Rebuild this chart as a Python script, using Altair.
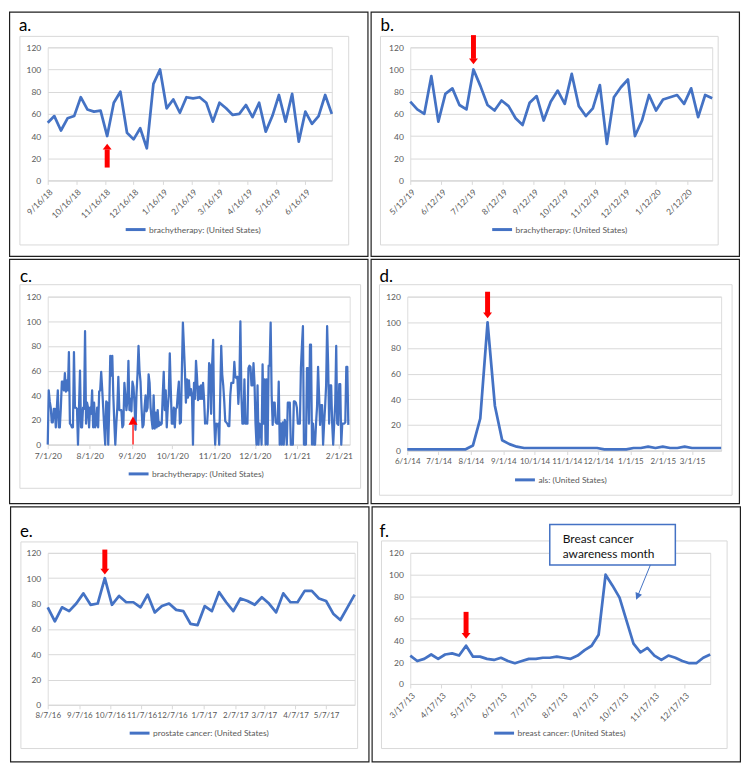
import altair as alt
import pandas as pd

BLUE = "#4472C4"
RED = "#FF0000"
GRID = "#D9D9D9"
LABEL = "#595959"
FONT = "Lato"

Y_TICKS = [0, 20, 40, 60, 80, 100, 120]

# ---- panel a: brachytherapy, weekly from 2018-09-16
a_values = [52, 58, 45, 56, 58, 75, 64, 62, 63, 40, 70, 80, 43, 37, 47, 29, 87, 100, 65, 73,
            61, 75, 74, 75, 70, 53, 70, 65, 59, 60, 68, 57, 70, 44, 58, 77, 53, 78, 35, 62,
            51, 58, 77, 60]
a_ticks = ["2018-09-16", "2018-10-16", "2018-11-16", "2018-12-16", "2019-01-16", "2019-02-16",
           "2019-03-16", "2019-04-16", "2019-05-16", "2019-06-16"]

# ---- panel b: brachytherapy, weekly from 2019-05-12
b_values = [71, 64, 60, 94, 53, 78, 83, 68, 64, 100, 85, 68, 63, 72, 67, 56, 50, 70, 76, 54,
            71, 81, 69, 96, 67, 58, 65, 86, 33, 75, 84, 91, 40, 54, 77, 63, 73, 75, 77, 69,
            83, 57, 77, 74]
b_ticks = ["2019-05-12", "2019-06-12", "2019-07-12", "2019-08-12", "2019-09-12", "2019-10-12",
           "2019-11-12", "2019-12-12", "2020-01-12", "2020-02-12"]

# ---- panel c: brachytherapy, daily 2020-07-01 .. 2021-02-08
c_values = [0, 44, 35, 30, 18, 18, 29, 29, 14, 29, 44, 14, 14, 30, 51, 51, 44, 58, 43, 52,
            44, 75, 17, 16, 14, 14, 75, 30, 30, 29, 0, 30, 60, 14, 14, 30, 29, 92, 17, 34,
            30, 14, 30, 25, 44, 14, 34, 14, 16, 30, 14, 43, 44, 59, 45, 30, 14, 0, 35, 34,
            0, 30, 72, 56, 72, 40, 18, 0, 17, 30, 55, 28, 28, 28, 14, 16, 50, 40, 28, 36,
            68, 28, 37, 27, 51, 47, 34, 12, 41, 57, 80, 60, 51, 30, 14, 16, 30, 40, 27, 30,
            57, 50, 30, 20, 13, 40, 13, 26, 14, 28, 15, 18, 16, 17, 40, 59, 28, 44, 14, 30,
            40, 74, 45, 17, 17, 30, 14, 29, 30, 42, 51, 17, 18, 60, 99, 80, 60, 34, 53, 38,
            52, 40, 45, 40, 0, 50, 37, 68, 55, 36, 47, 37, 48, 37, 50, 37, 17, 18, 17, 30,
            66, 64, 25, 65, 85, 22, 0, 17, 15, 17, 0, 40, 80, 57, 48, 35, 19, 18, 17, 15,
            15, 40, 50, 50, 50, 67, 55, 54, 55, 33, 50, 100, 40, 17, 17, 53, 17, 17, 17, 62,
            64, 63, 48, 48, 66, 50, 17, 0, 48, 0, 17, 15, 0, 65, 17, 53, 0, 53, 0, 64,
            64, 99, 40, 16, 34, 34, 18, 17, 17, 51, 0, 17, 0, 18, 0, 20, 17, 0, 34, 34,
            34, 0, 0, 0, 35, 35, 34, 30, 17, 17, 17, 62, 80, 96, 0, 0, 0, 62, 62, 17,
            81, 81, 0, 17, 0, 0, 17, 31, 63, 40, 16, 32, 32, 0, 17, 31, 48, 96, 65, 17,
            48, 48, 17, 0, 17, 33, 80, 17, 16, 49, 49, 0, 17, 17, 17, 18, 63, 63, 16]
c_ticks = ["2020-07-01", "2020-08-01", "2020-09-01", "2020-10-01", "2020-11-01", "2020-12-01",
           "2021-01-01", "2021-02-01"]

# ---- panel d: als, weekly from 2014-06-01
d_values = [1, 1, 1, 1, 1, 1, 1, 1, 1, 4, 25, 100, 35, 8, 5, 3, 2, 2, 2, 2,
            2, 2, 2, 2, 2, 2, 2, 1, 1, 1, 1, 2, 2, 3, 2, 3, 2, 2, 3, 2,
            2, 2, 2, 2]
d_ticks = ["2014-06-01", "2014-07-01", "2014-08-01", "2014-09-01", "2014-10-01", "2014-11-01",
           "2014-12-01", "2015-01-01", "2015-02-01", "2015-03-01"]

# ---- panel e: prostate cancer, weekly from 2016-08-07
e_values = [77, 66, 77, 74, 80, 88, 79, 80, 100, 79, 86, 81, 81, 77, 87, 73, 78, 80, 75, 74,
            64, 63, 78, 74, 89, 81, 74, 84, 82, 79, 85, 80, 73, 88, 81, 81, 90, 90, 84, 82,
            72, 67, 77, 87]
e_ticks = ["2016-08-07", "2016-09-07", "2016-10-07", "2016-11-07", "2016-12-07", "2017-01-07",
           "2017-02-07", "2017-03-07", "2017-04-07", "2017-05-07"]

# ---- panel f: breast cancer, weekly from 2013-03-17
f_values = [26, 21, 23, 27, 23, 27, 28, 26, 35, 25, 25, 23, 22, 24, 21, 19, 21, 23, 23, 24,
            24, 25, 24, 23, 26, 31, 35, 45, 100, 90, 79, 58, 37, 29, 33, 26, 22, 26, 24, 21,
            19, 19, 24, 27]
f_ticks = ["2013-03-17", "2013-04-17", "2013-05-17", "2013-06-17", "2013-07-17", "2013-08-17",
           "2013-09-17", "2013-10-17", "2013-11-17", "2013-12-17"]

# red arrows: date, tail value, head-base value, head-centre value
arrows = {
    "a": ("2018-11-18", 11.6, 28, 30.5),
    "b": ("2019-07-14", 131, 109.6, 107.3),
    "c": ("2020-09-02", 0, 16, 19.5),
    "d": ("2014-08-17", 123.8, 107, 105.4),
    "e": ("2016-10-02", 122.6, 107, 105.2),
    "f": ("2013-05-12", 66, 46, 44),
}

f_note_lines = ["Breast cancer", "awareness month"]


def iso(s):
    return s + "T00:00:00"


def dtobj(s):
    y, m, d = (int(p) for p in s.split("-"))
    return alt.DateTime(year=y, month=m, date=d)


DOWN = "M-1,-0.65L1,-0.65L0,0.65Z"
UP = "M-1,0.65L1,0.65L0,-0.65Z"
UP_TALL = "M-1,0.95L1,0.95L0,-0.95Z"

one = pd.DataFrame({"k": [0]})

Y_AXIS = alt.Axis(values=Y_TICKS, grid=True, gridColor=GRID, domain=False, ticks=False,
                  labelColor=LABEL, labelFontSize=8.5, labelPadding=7, title=None, labelOverlap=False)


def x_axis(ticks, angle, size):
    return alt.Axis(values=[dtobj(t) for t in ticks], format="%-m/%-d/%y",
                    labelAngle=angle, grid=False, domainColor=GRID, tickColor=GRID,
                    tickSize=4, labelColor=LABEL, labelFontSize=size, title=None,
                    labelPadding=3, labelOverlap=False, labelFlush=False)


def panel(letter, dates, values, name, ticks, angle, g, line_w=2.75, domain=None, extra=None,
          xsize=8.5):
    cw, ch, x0, y0, W, H, box, lab, leg = g
    xa = x_axis(ticks, angle, xsize)
    xs = alt.Scale(domain=[dtobj(domain[0]), dtobj(domain[1])]) if domain else alt.Scale()
    ys = alt.Scale(domain=[0, 120], nice=False)

    def X(field):
        return alt.X(field, axis=xa, scale=xs)

    def Y(field):
        return alt.Y(field, axis=Y_AXIS, scale=ys)

    df = pd.DataFrame({"date": dates, "value": values, "series": name})
    frame = alt.Chart(one).mark_rect(fillOpacity=0, stroke="#1f1f1f", strokeWidth=1.2).encode(
        x=alt.value(-x0 + 0.6), x2=alt.value(cw - x0 - 0.6),
        y=alt.value(-y0 + 0.6), y2=alt.value(ch - y0 - 0.6))
    inner = alt.Chart(one).mark_rect(fillOpacity=0, stroke=GRID, strokeWidth=1).encode(
        x=alt.value(box[0] - x0), x2=alt.value(box[2] - x0),
        y=alt.value(box[1] - y0), y2=alt.value(box[3] - y0))
    line = alt.Chart(df).mark_line(strokeWidth=line_w, strokeJoin="round").encode(
        x=X("date:T"), y=Y("value:Q"),
        color=alt.Color("series:N", scale=alt.Scale(range=[BLUE]),
                        legend=alt.Legend(orient="none", legendX=leg[0] - x0, legendY=leg[1] - y0 - 13,
                                          title=None, symbolType="stroke", symbolSize=400,
                                          symbolStrokeWidth=3, symbolStrokeColor=BLUE,
                                          labelFontSize=8.5, labelColor=LABEL, labelOffset=2,
                                          padding=0)))
    ad, tail, base, head = arrows[letter]
    arr = pd.DataFrame({"date": [iso(ad)], "tail": [tail], "base": [base], "head": [head]})
    thin = letter == "c"
    shaft = alt.Chart(arr).mark_rule(color=RED, strokeWidth=1.3 if thin else 5).encode(
        x=X("date:T"), y=Y("tail:Q"), y2="base:Q")
    shape = UP_TALL if thin else (UP if tail < base else DOWN)
    tip = alt.Chart(arr).mark_point(shape=shape, filled=True, color=RED, size=81, opacity=1,
                                    strokeWidth=0).encode(x=X("date:T"), y=Y("head:Q"))
    label = alt.Chart(one).mark_text(align="left", baseline="alphabetic", fontSize=17,
                                     color="#000000").encode(
        x=alt.value(lab[0] - x0), y=alt.value(lab[1] - y0), text=alt.value(letter + "."))
    layers = [frame, inner, line, shaft, tip, label]
    if extra is not None:
        layers += extra(X, Y)
    return alt.layer(*layers).properties(width=W, height=H)


def weekly(start, n):
    return pd.date_range(start, periods=n, freq="7D")


# geometry: cell w, cell h, plot x0, plot y0, plot W, plot H, inner box, letter pos, legend pos
G = {
    "a": (362, 247, 39, 36, 286, 134, (11, 25, 342, 235), (10, 19.5), (116, 221)),
    "b": (372, 247, 40, 36, 304, 134, (10, 25, 350, 235), (10, 19.5), (121, 221)),
    "c": (362, 247, 39, 38, 304, 149, (11, 26, 354, 231), (11, 23.5), (119, 218)),
    "d": (372, 247, 37, 38, 316, 155, (9, 26, 364, 238), (9, 23.5), (144, 224)),
    "e": (362, 258, 38, 47, 309, 153, (11, 36, 350, 244), (10, 31), (119, 230)),
    "f": (372, 258, 39, 47, 302, 132, (10, 35, 358, 244), (8, 31), (122, 230)),
}

# breast cancer annotation
note_box = pd.DataFrame({"x1": [iso("2013-08-04")], "x2": [iso("2013-12-08")], "y1": [146], "y2": [109]})
note_txt = pd.DataFrame({"date": [iso("2013-08-17"), iso("2013-08-17")], "y": [133, 119],
                         "text": f_note_lines})
note_arrow = pd.DataFrame({"x1": [iso("2013-11-13")], "x2": [iso("2013-10-31")], "y1": [109], "y2": [80]})


def f_extra(X, Y):
    return [
        alt.Chart(note_box).mark_rect(fill="white", stroke=BLUE, strokeWidth=1.5).encode(
            x=X("x1:T"), x2="x2:T", y=Y("y1:Q"), y2="y2:Q"),
        alt.Chart(note_txt).mark_text(align="left", baseline="middle", fontSize=12, color="#111111").encode(
            x=X("date:T"), y=Y("y:Q"), text="text:N"),
        alt.Chart(note_arrow).mark_rule(color=BLUE, strokeWidth=1).encode(
            x=X("x1:T"), x2="x2:T", y=Y("y1:Q"), y2="y2:Q"),
        alt.Chart(note_arrow).mark_point(shape="M-1,1L1,1L0,-1Z", filled=True, color=BLUE, size=49,
                                         opacity=1, angle=202, strokeWidth=0).encode(x=X("x2:T"), y=Y("y2:Q")),
    ]


c_dates = pd.date_range("2020-07-01", "2021-02-08", periods=len(c_values))

pa = panel("a", weekly("2018-09-16", len(a_values)), a_values, "brachytherapy: (United States)", a_ticks, -45, G["a"])
pb = panel("b", weekly("2019-05-12", len(b_values)), b_values, "brachytherapy: (United States)", b_ticks, -45, G["b"])
pc = panel("c", c_dates, c_values, "brachytherapy: (United States)", c_ticks, 0, G["c"], line_w=2.25,
           domain=("2020-07-01", "2021-02-09"))
pd_ = panel("d", weekly("2014-06-01", len(d_values)), d_values, "als: (United States)", d_ticks, 0, G["d"],
            xsize=8)
pe = panel("e", weekly("2016-08-07", len(e_values)), e_values, "prostate cancer: (United States)", e_ticks, 0, G["e"],
           xsize=8)
pf = panel("f", weekly("2013-03-17", len(f_values)), f_values, "breast cancer: (United States)", f_ticks, -45, G["f"],
           extra=f_extra)


def row(l, r):
    return alt.hconcat(l, r, spacing=0).resolve_scale(color="independent").resolve_legend(color="independent")


chart = alt.vconcat(row(pa, pb), row(pc, pd_), row(pe, pf), spacing=0).resolve_scale(
    color="independent").resolve_legend(color="independent").properties(padding=0).configure_view(
    stroke=None).configure(font=FONT)

chart.save("out.html", embed_options={"renderer": "svg", "actions": False})
